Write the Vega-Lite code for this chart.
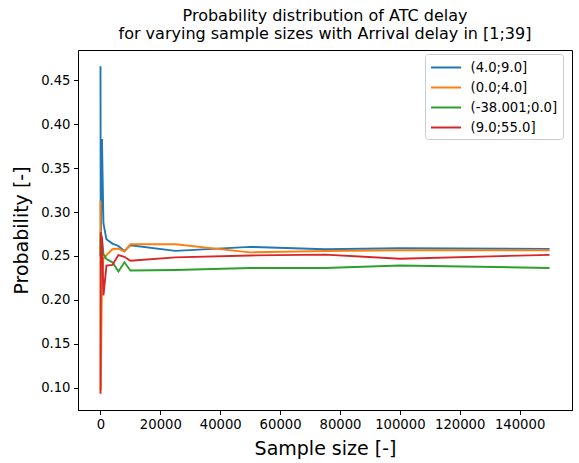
{
  "$schema": "https://vega.github.io/schema/vega-lite/v6.json",
  "autosize": {"type": "none"},
  "width": 494,
  "height": 360,
  "padding": {"left": 78, "top": 50, "right": 7, "bottom": 53},
  "background": "white",
  "config": {
    "font": "DejaVu Sans",
    "view": {"stroke": "black", "strokeWidth": 1},
    "axis": {
      "grid": false,
      "domainColor": "black",
      "tickColor": "black",
      "tickSize": 4.5,
      "labelColor": "black",
      "labelFontSize": 13.2,
      "labelPadding": 3.5,
      "titleColor": "black",
      "titleFontSize": 19,
      "titleFontWeight": "normal",
      "labelFont": "DejaVu Sans",
      "titleFont": "DejaVu Sans"
    }
  },
  "title": {
    "text": ["Probability distribution of ATC delay", "for varying sample sizes with Arrival delay in [1;39]"],
    "fontSize": 16,
    "fontWeight": "normal",
    "font": "DejaVu Sans",
    "color": "black",
    "lineHeight": 18.5,
    "offset": 8,
    "anchor": "middle"
  },
  "data": {
    "values": [
      {"n": 10, "series": "(4.0;9.0]", "p": 0.466},
      {"n": 100, "series": "(4.0;9.0]", "p": 0.25},
      {"n": 500, "series": "(4.0;9.0]", "p": 0.383},
      {"n": 1000, "series": "(4.0;9.0]", "p": 0.287},
      {"n": 2000, "series": "(4.0;9.0]", "p": 0.269},
      {"n": 4000, "series": "(4.0;9.0]", "p": 0.264},
      {"n": 6000, "series": "(4.0;9.0]", "p": 0.2613},
      {"n": 8000, "series": "(4.0;9.0]", "p": 0.2557},
      {"n": 10000, "series": "(4.0;9.0]", "p": 0.262},
      {"n": 25000, "series": "(4.0;9.0]", "p": 0.2557},
      {"n": 50000, "series": "(4.0;9.0]", "p": 0.2603},
      {"n": 75000, "series": "(4.0;9.0]", "p": 0.2575},
      {"n": 100000, "series": "(4.0;9.0]", "p": 0.2587},
      {"n": 150000, "series": "(4.0;9.0]", "p": 0.258},
      {"n": 10, "series": "(0.0;4.0]", "p": 0.313},
      {"n": 100, "series": "(0.0;4.0]", "p": 0.097},
      {"n": 500, "series": "(0.0;4.0]", "p": 0.22},
      {"n": 1000, "series": "(0.0;4.0]", "p": 0.247},
      {"n": 2000, "series": "(0.0;4.0]", "p": 0.251},
      {"n": 4000, "series": "(0.0;4.0]", "p": 0.2576},
      {"n": 6000, "series": "(0.0;4.0]", "p": 0.2584},
      {"n": 8000, "series": "(0.0;4.0]", "p": 0.255},
      {"n": 10000, "series": "(0.0;4.0]", "p": 0.2632},
      {"n": 25000, "series": "(0.0;4.0]", "p": 0.2632},
      {"n": 50000, "series": "(0.0;4.0]", "p": 0.254},
      {"n": 75000, "series": "(0.0;4.0]", "p": 0.2555},
      {"n": 100000, "series": "(0.0;4.0]", "p": 0.2565},
      {"n": 150000, "series": "(0.0;4.0]", "p": 0.2565},
      {"n": 10, "series": "(-38.001;0.0]", "p": 0.25},
      {"n": 100, "series": "(-38.001;0.0]", "p": 0.272},
      {"n": 500, "series": "(-38.001;0.0]", "p": 0.271},
      {"n": 1000, "series": "(-38.001;0.0]", "p": 0.252},
      {"n": 2000, "series": "(-38.001;0.0]", "p": 0.2464},
      {"n": 4000, "series": "(-38.001;0.0]", "p": 0.2427},
      {"n": 6000, "series": "(-38.001;0.0]", "p": 0.2322},
      {"n": 8000, "series": "(-38.001;0.0]", "p": 0.2427},
      {"n": 10000, "series": "(-38.001;0.0]", "p": 0.2333},
      {"n": 25000, "series": "(-38.001;0.0]", "p": 0.234},
      {"n": 50000, "series": "(-38.001;0.0]", "p": 0.2363},
      {"n": 75000, "series": "(-38.001;0.0]", "p": 0.2363},
      {"n": 100000, "series": "(-38.001;0.0]", "p": 0.239},
      {"n": 150000, "series": "(-38.001;0.0]", "p": 0.2363},
      {"n": 10, "series": "(9.0;55.0]", "p": 0.093},
      {"n": 100, "series": "(9.0;55.0]", "p": 0.277},
      {"n": 500, "series": "(9.0;55.0]", "p": 0.27},
      {"n": 1000, "series": "(9.0;55.0]", "p": 0.205},
      {"n": 2000, "series": "(9.0;55.0]", "p": 0.239},
      {"n": 4000, "series": "(9.0;55.0]", "p": 0.2397},
      {"n": 6000, "series": "(9.0;55.0]", "p": 0.2509},
      {"n": 8000, "series": "(9.0;55.0]", "p": 0.249},
      {"n": 10000, "series": "(9.0;55.0]", "p": 0.2445},
      {"n": 25000, "series": "(9.0;55.0]", "p": 0.2483},
      {"n": 50000, "series": "(9.0;55.0]", "p": 0.2505},
      {"n": 75000, "series": "(9.0;55.0]", "p": 0.2515},
      {"n": 100000, "series": "(9.0;55.0]", "p": 0.2468},
      {"n": 150000, "series": "(9.0;55.0]", "p": 0.2512}
    ]
  },
  "mark": {"type": "line", "strokeWidth": 1.9, "clip": true},
  "encoding": {
    "x": {
      "field": "n",
      "type": "quantitative",
      "scale": {"domain": [-7500, 157500], "nice": false, "zero": false},
      "axis": {"values": [0, 20000, 40000, 60000, 80000, 100000, 120000, 140000], "format": "d", "title": "Sample size [-]", "titlePadding": 9}
    },
    "y": {
      "field": "p",
      "type": "quantitative",
      "scale": {"domain": [0.0745, 0.4845], "nice": false, "zero": false},
      "axis": {"values": [0.1, 0.15, 0.2, 0.25, 0.3, 0.35, 0.4, 0.45], "format": ".2f", "title": "Probability [-]", "titlePadding": 9}
    },
    "color": {
      "field": "series",
      "type": "nominal",
      "sort": ["(4.0;9.0]", "(0.0;4.0]", "(-38.001;0.0]", "(9.0;55.0]"],
      "scale": {"domain": ["(4.0;9.0]", "(0.0;4.0]", "(-38.001;0.0]", "(9.0;55.0]"], "range": ["#1f77b4", "#ff7f0e", "#2ca02c", "#d62728"]},
      "legend": {
        "title": null,
        "orient": "none",
        "legendX": 347,
        "legendY": 4,
        "symbolType": "M-2,0L2,0",
        "symbolSize": 225,
        "symbolStrokeWidth": 2,
        "symbolOffset": 7.5,
        "labelFontSize": 13.2,
        "labelFont": "DejaVu Sans",
        "labelColor": "black",
        "labelOffset": 16,
        "rowPadding": 5,
        "padding": 5,
        "strokeColor": "#cccccc",
        "fillColor": "white",
        "cornerRadius": 3
      }
    },
    "order": {"field": "n", "type": "quantitative"}
  }
}
